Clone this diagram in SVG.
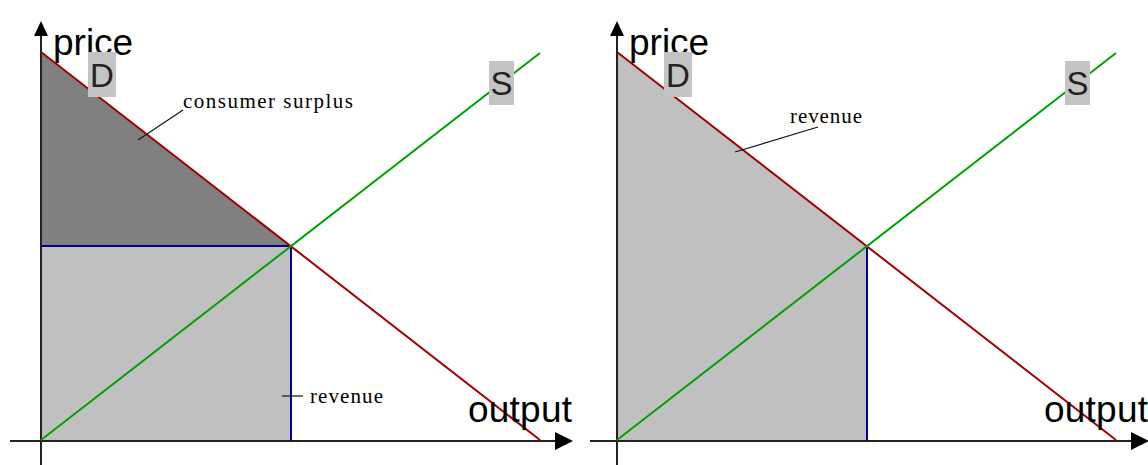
<svg xmlns="http://www.w3.org/2000/svg" width="1148" height="465" viewBox="0 0 1148 465">
<style>
.axis{stroke:#222;stroke-width:2;fill:none}
.dem{stroke:#a00000;stroke-width:2;fill:none}
.sup{stroke:#00a000;stroke-width:2;fill:none}
.blue{stroke:#000090;stroke-width:2;fill:none}
.lead{stroke:#111;stroke-width:1.2;fill:none}
.big{font-family:"Liberation Sans",Arial,sans-serif;font-size:37px;fill:#000}
.lbl{font-family:"Liberation Sans",Arial,sans-serif;font-size:33px;fill:#222}
.ser{font-family:"Liberation Serif","Times New Roman",serif;font-size:21px;fill:#000}
.box{fill:#c4c4c4}
.head{fill:#000}
</style>
<rect width="1148" height="465" fill="#fff"/>
<g id="left-chart">
  <polygon points="41,52 291,246 41,246" fill="#808080"/>
  <rect x="41" y="246" width="250" height="195" fill="#c0c0c0"/>
  <g id="left-axes">
    <line class="axis" x1="41" y1="34" x2="41" y2="465"/>
    <polygon class="head" points="41,21 34,36 48,36"/>
    <line class="axis" x1="10" y1="441" x2="556" y2="441"/>
    <polygon class="head" points="573,441 555,432 555,450"/>
  </g>
  <g id="left-connectors">
    <line class="blue" x1="41" y1="246" x2="291" y2="246"/>
    <line class="blue" x1="291" y1="246" x2="291" y2="441"/>
    <line class="dem" x1="41" y1="52" x2="540" y2="440"/>
    <line class="sup" x1="41" y1="440" x2="540" y2="53"/>
    <line class="lead" x1="138" y1="140" x2="183" y2="110"/>
    <line class="lead" x1="282" y1="396" x2="303" y2="396"/>
  </g>
  <text class="big" x="53" y="55">price</text>
  <text class="big" x="468" y="422" textLength="104">output</text>
  <g id="left-D">
    <rect class="box" x="88" y="52" width="28" height="45"/>
    <text class="lbl" x="102" y="87" text-anchor="middle">D</text>
  </g>
  <g id="left-S">
    <rect class="box" x="489" y="61" width="25" height="44"/>
    <text class="lbl" x="501.5" y="95" text-anchor="middle">S</text>
  </g>
  <text class="ser" x="183" y="108" textLength="170">consumer surplus</text>
  <text class="ser" x="310" y="403" textLength="73">revenue</text>
</g>
<g id="right-chart">
  <polygon points="617,52 867,246 867,441 617,441" fill="#c0c0c0"/>
  <g id="right-axes">
    <line class="axis" x1="617" y1="34" x2="617" y2="465"/>
    <polygon class="head" points="617,21 610,36 624,36"/>
    <line class="axis" x1="590" y1="441" x2="1132" y2="441"/>
    <polygon class="head" points="1149,441 1131,432 1131,450"/>
  </g>
  <g id="right-connectors">
    <line class="blue" x1="867" y1="246" x2="867" y2="441"/>
    <line class="dem" x1="617" y1="52" x2="1116" y2="440"/>
    <line class="sup" x1="617" y1="440" x2="1116" y2="53"/>
    <line class="lead" x1="735" y1="152" x2="818" y2="127"/>
  </g>
  <text class="big" x="629" y="55">price</text>
  <text class="big" x="1044" y="422" textLength="104">output</text>
  <g id="right-D">
    <rect class="box" x="664" y="52" width="28" height="45"/>
    <text class="lbl" x="678" y="87" text-anchor="middle">D</text>
  </g>
  <g id="right-S">
    <rect class="box" x="1065" y="61" width="25" height="44"/>
    <text class="lbl" x="1077.5" y="95" text-anchor="middle">S</text>
  </g>
  <text class="ser" x="790" y="123" textLength="72">revenue</text>
</g>
</svg>
